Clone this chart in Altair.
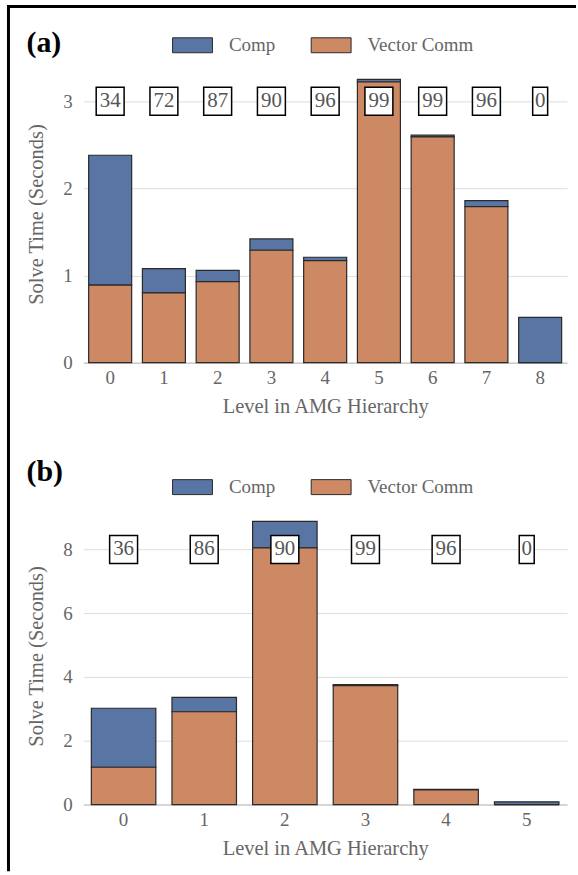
import altair as alt
import pandas as pd

# ---------------- data ----------------
series_names = ["Comp", "Vector Comm"]

levels_a = [0, 1, 2, 3, 4, 5, 6, 7, 8]
comp_a = [1.49, 0.28, 0.13, 0.13, 0.04, 0.03, 0.02, 0.07, 0.52]
comm_a = [0.89, 0.80, 0.93, 1.29, 1.17, 3.22, 2.59, 1.79, 0.00]
pct_a = ["34", "72", "87", "90", "96", "99", "99", "96", "0"]

levels_b = [0, 1, 2, 3, 4, 5]
comp_b = [1.85, 0.45, 0.83, 0.03, 0.02, 0.085]
comm_b = [1.17, 2.91, 8.05, 3.73, 0.46, 0.00]
pct_b = ["36", "86", "90", "99", "96", "0"]

# ---------------- style ----------------
FONT = "Liberation Serif"
TXT = "#666666"
BLUE = "#5875a4"
ORANGE = "#cc8963"
EDGE = "#2a2a2a"
W, H = 485, 298

BOX_WIDE = "M-1,-1H1V1H-1Z"
BOX_NARROW = "M-0.536,-1H0.536V1H-0.536Z"
LEG_SYM = "M-1,-0.375H1V0.375H-1Z"


def panel(levels, comp, comm, pct, ymax, yticks, box_y, tag, tag_y, frame=False):
    n = len(levels)
    bars_df = pd.DataFrame({
        "level": levels * 2,
        "series": [series_names[0]] * n + [series_names[1]] * n,
        "value": comp + comm,
    })
    pct_df = pd.DataFrame({"level": levels, "pct": pct})

    xscale = alt.Scale(paddingInner=0.2, paddingOuter=0.1)
    xaxis = alt.Axis(
        title="Level in AMG Hierarchy", labelAngle=0, ticks=False, tickSize=0,
        domain=True, domainColor="#cccccc", domainWidth=1.5,
        labelPadding=6, titlePadding=9, grid=False,
    )
    yscale = alt.Scale(domain=[0, ymax], nice=False, zero=True)
    yaxis = alt.Axis(
        title="Solve Time (Seconds)", values=yticks, grid=True,
        gridColor="#dddddd", gridWidth=1, domain=False, ticks=False,
        tickSize=0, labelPadding=11, titlePadding=16,
    )
    xenc = alt.X("level:O", scale=xscale, axis=xaxis, title="Level in AMG Hierarchy")
    yb = alt.YDatum(box_y, type="quantitative", scale=yscale, axis=yaxis,
                    title="Solve Time (Seconds)")

    bars = alt.Chart(bars_df).mark_bar(stroke=EDGE, strokeWidth=1.2).transform_calculate(
        stk="datum.series == 'Vector Comm' ? 0 : 1"
    ).encode(
        x=xenc,
        y=alt.Y("value:Q", stack="zero", scale=yscale, axis=yaxis,
                title="Solve Time (Seconds)"),
        color=alt.Color(
            "series:N",
            scale=alt.Scale(domain=series_names, range=[BLUE, ORANGE]),
            legend=alt.Legend(
                title=None, orient="none", legendX=89, legendY=-41,
                direction="horizontal", symbolType=LEG_SYM, symbolSize=1600,
                symbolStrokeColor=EDGE, symbolStrokeWidth=1, symbolOpacity=1,
                labelOffset=16, columnPadding=33, labelFont=FONT,
                labelFontSize=19, labelColor=TXT, padding=0,
            ),
        ),
        order=alt.Order("stk:Q"),
    )

    boxes = alt.Chart(pct_df).transform_calculate(
        w="length(datum.pct) > 1 ? 'w' : 'n'"
    ).mark_point(filled=True, fill="white", stroke="black", strokeWidth=1.5,
                 opacity=1, size=784).encode(
        x=xenc,
        y=yb,
        shape=alt.Shape("w:N", scale=alt.Scale(domain=["w", "n"],
                                               range=[BOX_WIDE, BOX_NARROW]),
                        legend=None),
    )
    labels = alt.Chart(pct_df).mark_text(
        font=FONT, fontSize=21, color="#555555", align="center", baseline="middle"
    ).encode(
        x=xenc,
        y=yb,
        text="pct:N",
    )
    tag_mark = alt.Chart(pd.DataFrame({"tag": [tag]})).mark_text(
        font=FONT, fontSize=30, fontWeight="bold", color="black",
        align="left", baseline="middle",
    ).encode(text="tag:N", x=alt.value(-57), y=alt.value(tag_y))

    layers = [bars, boxes, labels, tag_mark]
    if frame:
        one = pd.DataFrame({"k": [0]})
        vline = alt.Chart(one).mark_rule(color="black", strokeWidth=3).encode(
            x=alt.value(-75), x2=alt.value(-75), y=alt.value(-59), y2=alt.value(808))
        hline = alt.Chart(one).mark_rule(color="black", strokeWidth=3).encode(
            x=alt.value(-76.5), x2=alt.value(494), y=alt.value(-59), y2=alt.value(-59))
        layers += [vline, hline]
    return alt.layer(*layers).properties(width=W, height=H)


pa = panel(levels_a, comp_a, comm_a, pct_a, 3.41, [0, 1, 2, 3], 3, "(a)", -22, frame=True)
pb = panel(levels_b, comp_b, comm_b, pct_b, 9.32, [0, 2, 4, 6, 8], 8, "(b)", -35)

chart = alt.vconcat(pa, pb, spacing=145, bounds="flush").resolve_scale(
    x="independent", y="independent", color="independent", shape="independent"
).resolve_legend(color="independent").properties(
    padding={"left": 5.5, "top": 3.5, "right": 0, "bottom": 0},
    background="white",
).configure_view(stroke=None).configure_axis(
    labelFont=FONT, titleFont=FONT, labelColor=TXT, titleColor=TXT,
    labelFontSize=19, titleFontSize=20.5, titleFontWeight="normal",
)

chart.save("out.html", embed_options={"renderer": "svg", "actions": False})
